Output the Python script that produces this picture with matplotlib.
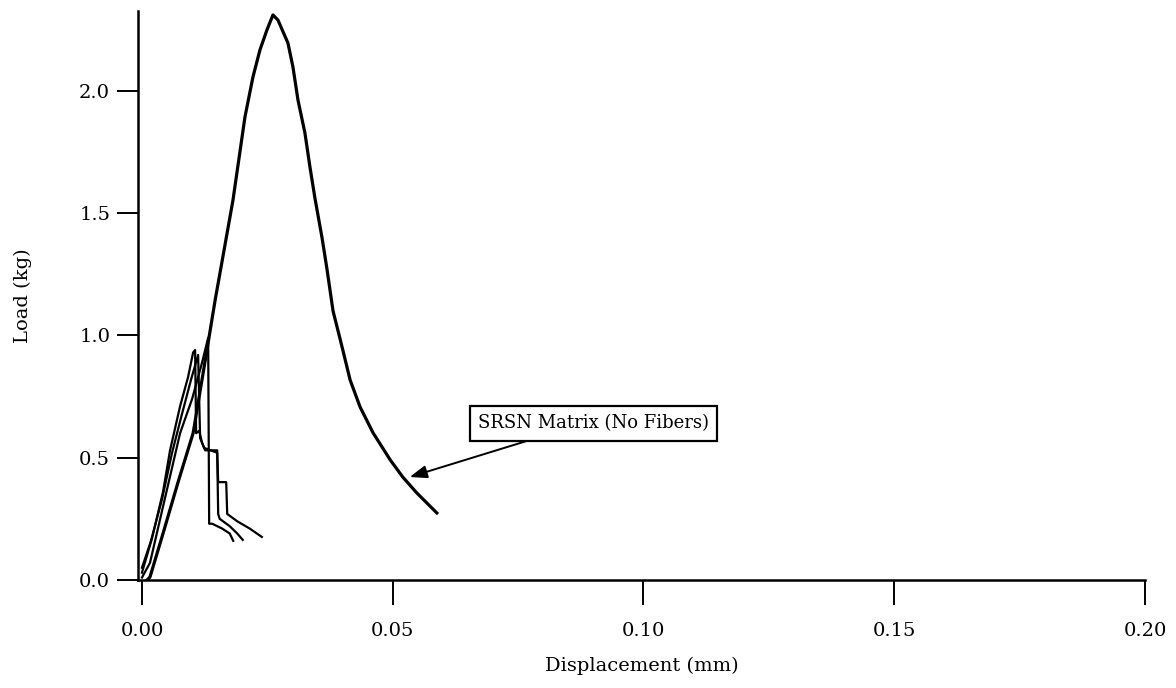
import matplotlib
matplotlib.use("Agg")
import matplotlib.pyplot as plt

# SRSN matrix (no fibers) load-displacement curve
matrix_x = [0.0, 0.0008, 0.0016, 0.0042, 0.0072, 0.0102, 0.0132, 0.0146, 0.0163,
            0.01815, 0.02054, 0.02213, 0.02353, 0.02493, 0.02612, 0.02712,
            0.02911, 0.03011, 0.03111, 0.0325, 0.0335, 0.0345, 0.0359, 0.0369,
            0.0381, 0.0399, 0.0415, 0.0435, 0.0461, 0.0495, 0.052, 0.0548, 0.0588]
matrix_y = [-0.01, -0.005, 0.012, 0.19, 0.40, 0.60, 0.97, 1.145, 1.34,
            1.553, 1.893, 2.056, 2.167, 2.249, 2.310, 2.289,
            2.195, 2.097, 1.962, 1.827, 1.688, 1.56, 1.40, 1.27,
            1.10, 0.953, 0.818, 0.707, 0.601, 0.491, 0.421, 0.356, 0.274]

# short specimen curves
s1_x = [0.0, 0.0020, 0.0042, 0.0056, 0.0076, 0.0092, 0.0102, 0.0106, 0.0108,
        0.0114, 0.0120, 0.0126, 0.0150, 0.0152, 0.0168, 0.0170, 0.0190,
        0.0215, 0.0239]
s1_y = [0.03, 0.17, 0.36, 0.53, 0.71, 0.83, 0.93, 0.94, 0.60,
        0.61, 0.56, 0.53, 0.53, 0.40, 0.40, 0.27, 0.24,
        0.21, 0.176]

s2_x = [0.0, 0.0016, 0.0042, 0.0076, 0.0100, 0.0120, 0.0132, 0.0134,
        0.0140, 0.0160, 0.0175, 0.0182]
s2_y = [0.01, 0.07, 0.30, 0.60, 0.74, 0.89, 0.99, 0.23,
        0.23, 0.21, 0.19, 0.16]

s3_x = [0.0, 0.0018, 0.0040, 0.0060, 0.0080, 0.0098, 0.0112, 0.0116,
        0.0124, 0.0150, 0.0152, 0.0155, 0.0175, 0.0190, 0.0201]
s3_y = [0.05, 0.16, 0.33, 0.52, 0.68, 0.82, 0.92, 0.58,
        0.54, 0.52, 0.27, 0.25, 0.22, 0.19, 0.164]

x_ticks = [0.00, 0.05, 0.10, 0.15, 0.20]
y_ticks = [0.0, 0.5, 1.0, 1.5, 2.0]
label_text = "SRSN Matrix (No Fibers)"

plt.rcParams["font.family"] = ["DejaVu Serif"]

fig = plt.figure(figsize=(11.76, 6.88), dpi=100)
ax = fig.add_axes([0.1173, 0.157, 0.9736 - 0.1173, 0.984 - 0.157])

for xs, ys in [(s1_x, s1_y), (s3_x, s3_y), (s2_x, s2_y)]:
    ax.plot(xs, ys, color="black", lw=1.6)
ax.plot(matrix_x, matrix_y, color="black", lw=2.3)

ax.set_xlim(-0.0008, 0.2)
ax.set_ylim(0, 2.326)
ax.set_xticks(x_ticks)
ax.set_xticklabels(["%.2f" % v for v in x_ticks])
ax.set_yticks(y_ticks)
ax.set_yticklabels(["%.1f" % v for v in y_ticks])

for side in ["top", "right"]:
    ax.spines[side].set_visible(False)
for side in ["left", "bottom"]:
    ax.spines[side].set_linewidth(1.8)
ax.tick_params(axis="x", direction="out", length=18, width=1.4, labelsize=14, pad=12)
ax.tick_params(axis="y", direction="out", length=15, width=1.4, labelsize=14, pad=5)

ax.set_xlabel("Displacement (mm)", fontsize=14, labelpad=12)
ax.set_ylabel("Load (kg)", fontsize=14, labelpad=34)

ax.annotate(label_text, xy=(0.0534, 0.421), xytext=(0.0901, 0.64),
            fontsize=13, ha="center", va="center",
            bbox=dict(boxstyle="square,pad=0.45", fc="white", ec="black", lw=1.6),
            arrowprops=dict(arrowstyle="-|>,head_length=0.8,head_width=0.3",
                            color="black", lw=1.4, shrinkA=0, shrinkB=0,
                            relpos=(0.33, 0.0)))

fig.savefig("out.png", dpi=100)
